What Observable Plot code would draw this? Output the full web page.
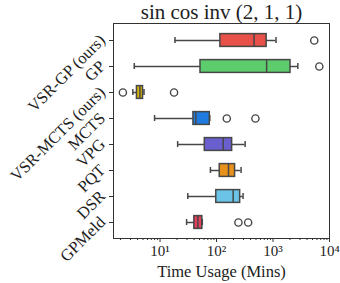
<!DOCTYPE html>
<html><head><meta charset="utf-8">
<script src="https://cdn.jsdelivr.net/npm/d3@7"></script>
<script src="https://cdn.jsdelivr.net/npm/@observablehq/plot@0.6"></script>
<style>body{margin:0;background:#fff}#chart{width:340px;height:283px}</style>
</head><body><div id="chart"></div>
<script>
const chartTitle = "sin cos inv (2, 1, 1)";
const xLabel = "Time Usage (Mins)";
const methods = ["VSR-GP (ours)", "GP", "VSR-MCTS (ours)", "MCTS", "VPG", "PQT", "DSR", "GPMeld"];
const whiskerLow  = [18.4, 3.5, 3.3, 8.0, 20.5, 78, 31, 29.5];
const q1          = [117, 52, 3.9, 39, 62, 114, 99, 40.5];
const median      = [462, 771, 4.4, 43, 131, 163, 197, 46.8];
const q3          = [771, 2040, 5.0, 76, 189, 213, 262, 56];
const whiskerHigh = [1130, 2750, 5.2, 76, 321, 272, 295, 56];
const boxColors   = ["#e8504a", "#5ccc6c", "#d6b20c", "#1f7be0", "#6a5fcf", "#e8921c", "#6cc3e8", "#e0405c"];
const outlierMethod = ["VSR-GP (ours)", "GP", "VSR-MCTS (ours)", "VSR-MCTS (ours)", "MCTS", "MCTS", "GPMeld", "GPMeld"];
const outlierValue  = [5370, 6600, 2.2, 17.7, 152, 488, 244, 363];
const majorTicks = [10, 100, 1000, 10000];
const majorTickLabels = ["10¹", "10²", "10³", "10⁴"];
const minorTicks = [2,3,4,5,6,7,8,9,20,30,40,50,60,70,80,90,200,300,400,500,600,700,800,900,2000,3000,4000,5000,6000,7000,8000,9000];

const boxes = methods.map((m, i) => ({method: m, lo: whiskerLow[i], q1: q1[i], med: median[i], q3: q3[i], hi: whiskerHigh[i], color: boxColors[i]}));
const outliers = outlierMethod.map((m, i) => ({method: m, value: outlierValue[i]}));
const ends = boxes.flatMap(d => [{method: d.method, v: d.lo}, {method: d.method, v: d.hi}]);

const font = "Liberation Serif, Times New Roman, serif";
const gray = "#474747";

const chart = Plot.plot({
  width: 340, height: 283,
  marginLeft: 113, marginRight: 11, marginTop: 23, marginBottom: 45,
  style: {fontFamily: font, fontSize: "15px", background: "#fff", color: "#222"},
  x: {type: "log", domain: [1.5, 10000]},
  y: {type: "band", domain: methods, padding: 0},
  marks: [
    Plot.ruleY(boxes, {y: "method", x1: "lo", x2: "hi", stroke: gray, strokeWidth: 1.5}),
    Plot.tickX(ends, {x: "v", y: "method", stroke: gray, strokeWidth: 1.5, insetTop: 10, insetBottom: 10}),
    Plot.barX(boxes, {y: "method", x1: "q1", x2: "q3", fill: d => d.color, stroke: gray, strokeWidth: 1.5, insetTop: 6.6, insetBottom: 6.6}),
    Plot.tickX(boxes, {x: "med", y: "method", stroke: gray, strokeWidth: 1.5, insetTop: 6.6, insetBottom: 6.6}),
    Plot.dot(outliers, {x: "value", y: "method", r: 3.6, stroke: gray, strokeWidth: 1.4, fill: "white"}),
    Plot.frame({stroke: "#333", strokeWidth: 1}),
    Plot.axisY({tickSize: 4, tickFormat: () => "", label: null, stroke: "#333"}),
    Plot.text(methods, {y: d => d, frameAnchor: "left", dx: -11, dy: -3, rotate: -45, textAnchor: "end", lineAnchor: "middle", fontSize: 16.5, fill: "#222"}),
    Plot.axisX({ticks: minorTicks, tickSize: 2, tickFormat: () => "", label: null, stroke: "#333"}),
    Plot.axisX({ticks: majorTicks, tickSize: 4, tickPadding: 3, tickFormat: d => majorTickLabels[majorTicks.indexOf(d)], label: null, fontSize: 15, stroke: "#333"}),
    Plot.text([xLabel], {frameAnchor: "bottom", dy: 33, lineAnchor: "middle", fontSize: 16.5, fill: "#222"}),
    Plot.text([chartTitle], {frameAnchor: "top", dy: -11, lineAnchor: "middle", fontSize: 21, fill: "#222"})
  ]
});
document.getElementById("chart").appendChild(chart);
</script>
</body></html>
